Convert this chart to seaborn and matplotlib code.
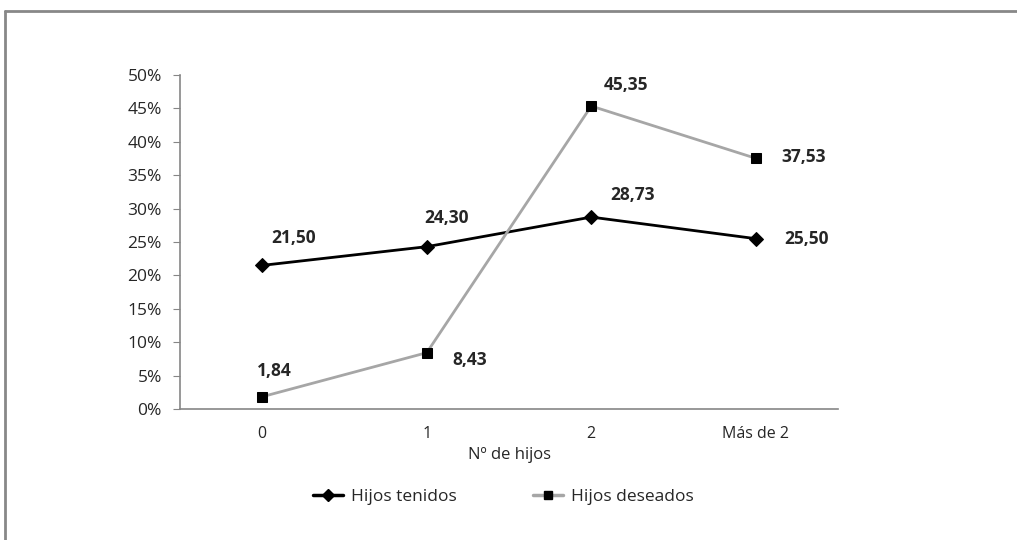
import pandas as pd
import matplotlib.pyplot as plt
import seaborn as sns

categorias = ["0", "1", "2", "Más de 2"]
hijos_tenidos = [21.50, 24.30, 28.73, 25.50]
hijos_deseados = [1.84, 8.43, 45.35, 37.53]
y_ticks = [0, 5, 10, 15, 20, 25, 30, 35, 40, 45, 50]

sns.set_style("white")
plt.rcParams["font.family"] = ["Open Sans", "DejaVu Sans"]

df = pd.DataFrame({
    "pos": list(range(len(categorias))) * 2,
    "valor": hijos_tenidos + hijos_deseados,
    "serie": ["Hijos tenidos"] * 4 + ["Hijos deseados"] * 4,
})

fig = plt.figure(figsize=(10.17, 5.4), dpi=100)
ax = fig.add_axes([0.177, 0.2426, 0.647, 0.6185])

sns.lineplot(data=df, x="pos", y="valor", hue="serie", style="serie",
             palette={"Hijos tenidos": "black", "Hijos deseados": "#a6a6a6"},
             markers={"Hijos tenidos": "D", "Hijos deseados": "s"},
             dashes=False, linewidth=2, markersize=7,
             markerfacecolor="black", markeredgecolor="black",
             legend=False, ax=ax)

# etiquetas de datos (desplazamiento en pixeles)
off_t = [(31, 27), (20, 29), (41, 22), (51, 0)]
off_d = [(12, 26), (43, -7), (35, 21), (48, 1)]
for i, v in enumerate(hijos_tenidos):
    ax.annotate(f"{v:.2f}".replace(".", ","), (i, v), xytext=off_t[i],
                textcoords="offset pixels", ha="center", va="center",
                fontsize=12.5, fontweight="bold")
for i, v in enumerate(hijos_deseados):
    ax.annotate(f"{v:.2f}".replace(".", ","), (i, v), xytext=off_d[i],
                textcoords="offset pixels", ha="center", va="center",
                fontsize=12.5, fontweight="bold")

ax.set_xlim(-0.5, 3.5)
ax.set_ylim(0, 50)
ax.set_yticks(y_ticks)
ax.set_yticklabels([f"{t}%" for t in y_ticks], fontsize=12.5)
ax.set_xticks(range(4))
ax.set_xticklabels(categorias, fontsize=11.5)
ax.set_xticks([-0.5, 0.5, 1.5, 2.5, 3.5], minor=True)
ax.tick_params(axis="x", which="major", length=0, pad=12)
ax.tick_params(axis="x", which="minor", length=5, color="#868686", direction="out")
ax.tick_params(axis="y", length=5, color="#868686", direction="out", left=True, pad=8)
ax.set_xlabel("Nº de hijos", fontsize=12, labelpad=4)
ax.set_ylabel("")

for s in ["top", "right"]:
    ax.spines[s].set_visible(False)
for s in ["left", "bottom"]:
    ax.spines[s].set_color("#868686")
    ax.spines[s].set_linewidth(1.2)

h1 = plt.Line2D([], [], color="black", lw=2.5, marker="D", markersize=6,
                markerfacecolor="black")
h2 = plt.Line2D([], [], color="#a6a6a6", lw=2.5, marker="s", markersize=6,
                markerfacecolor="black", markeredgecolor="black")
fig.legend([h1, h2], ["Hijos tenidos", "Hijos deseados"], loc="center",
           bbox_to_anchor=(503 / 1017, 1 - 497 / 540), ncol=2, frameon=False,
           fontsize=12.5, handlelength=1.73, columnspacing=4.4, handletextpad=0.46)

# marco gris del grafico
fig.add_artist(plt.Line2D([5 / 1017, 5 / 1017], [0, 1 - 11 / 540],
                          color="#888888", lw=2))
fig.add_artist(plt.Line2D([5 / 1017, 1], [1 - 11 / 540, 1 - 11 / 540],
                          color="#888888", lw=2))

fig.savefig("out.png", dpi=100)
